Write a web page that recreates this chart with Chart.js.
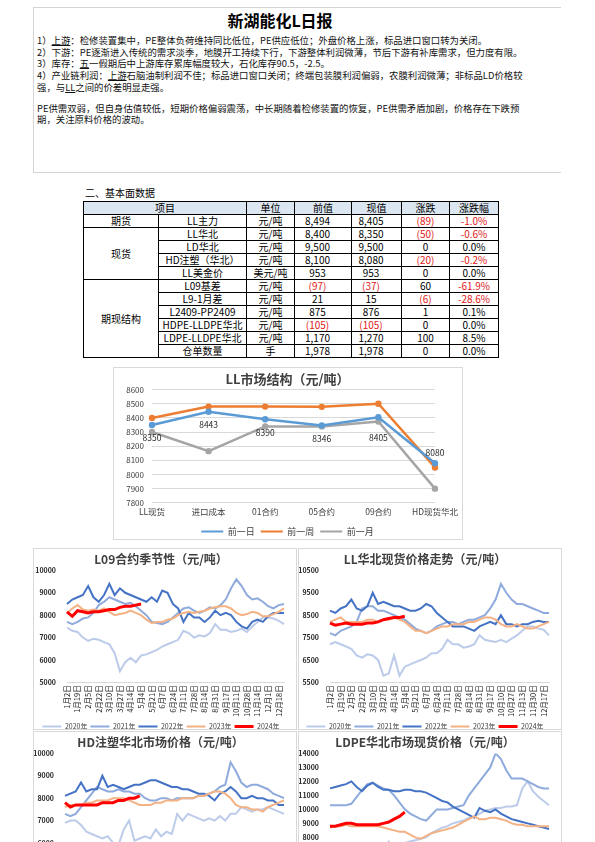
<!DOCTYPE html>
<html>
<head>
<meta charset="utf-8">
<script src="https://cdn.jsdelivr.net/npm/chart.js@4.4.1/dist/chart.umd.min.js"></script>
<style>
  body { margin: 0; width: 595px; height: 842px; overflow: hidden; background: #fff; position: relative;
         font-family: "Noto Sans CJK SC", sans-serif; color: #000; }
  .abs { position: absolute; }
  #summary { left: 33px; top: 7px; width: 527px; height: 164px; border: 1px solid #d4d4d4; border-right: none; }
  #title { left: 180px; top: 9px; width: 200px; text-align: center; font-size: 16px; font-weight: bold; line-height: 22px; }
  .txt { left: 37px; font-size: 9.4px; white-space: nowrap; color: #111; }
  #points { top: 35px; line-height: 11.7px; }
  #view { top: 103px; line-height: 10.8px; }
  #sect { left: 85px; top: 187px; font-size: 10px; line-height: 12px; }
  table { position: absolute; left: 83px; top: 201px; border-collapse: collapse; table-layout: fixed; font-size: 10px; }
  td { border: 1px solid #000; height: 12px; padding: 0; line-height: 12px; text-align: center; white-space: nowrap; }
  tr.head td { background: #dce6f1; }
  td.num { padding-right: 11px; }
  .red { color: #e02020; }
  .chartbox { position: absolute; border: 1px solid #d9d9d9; box-sizing: border-box; }
</style>
</head>
<body>
<div id="summary" class="abs"></div>
<div id="title" class="abs">新湖能化L日报</div>
<div id="points" class="abs txt">
1）<u>上游</u>：检修装置集中，PE整体负荷维持同比低位，PE供应低位；外盘价格上涨，标品进口窗口转为关闭。<br>
2）下游：PE逐渐进入传统的需求淡季，地膜开工持续下行，下游整体利润微薄，节后下游有补库需求，但力度有限。<br>
3）库存：<u>五</u>一假期后中上游库存累库幅度较大，石化库存90.5，-2.5。<br>
4）产业链利润：<u>上游</u>石脑油制利润不佳；标品进口窗口关闭；终端包装膜利润偏弱，农膜利润微薄；非标品LD价格较<br>
强，与<u>LL</u>之间的价差明显走强。
</div>
<div id="view" class="abs txt">
PE供需双弱，但自身估值较低，短期价格偏弱震荡，中长期随着检修装置的恢复，PE供需矛盾加剧，价格存在下跌预<br>
期，关注原料价格的波动。
</div>
<div id="sect" class="abs">二、基本面数据</div>

<table>
  <colgroup><col style="width:75px"><col style="width:88px"><col style="width:48px"><col style="width:57px"><col style="width:50px"><col style="width:48px"><col style="width:49px"></colgroup>
  <tr class="head"><td colspan="2">项目</td><td>单位</td><td>前值</td><td>现值</td><td>涨跌</td><td>涨跌幅</td></tr>
  <tr><td>期货</td><td>LL主力</td><td>元/吨</td><td class="num">8,494</td><td class="num">8,405</td><td class="red">(89)</td><td class="red">-1.0%</td></tr>
  <tr><td rowspan="4">现货</td><td>LL华北</td><td>元/吨</td><td class="num">8,400</td><td class="num">8,350</td><td class="red">(50)</td><td class="red">-0.6%</td></tr>
  <tr><td>LD华北</td><td>元/吨</td><td class="num">9,500</td><td class="num">9,500</td><td>0</td><td>0.0%</td></tr>
  <tr><td>HD注塑（华北）</td><td>元/吨</td><td class="num">8,100</td><td class="num">8,080</td><td class="red">(20)</td><td class="red">-0.2%</td></tr>
  <tr><td>LL美金价</td><td>美元/吨</td><td class="num">953</td><td class="num">953</td><td>0</td><td>0.0%</td></tr>
  <tr><td rowspan="6">期现结构</td><td>L09基差</td><td>元/吨</td><td class="num red">(97)</td><td class="num red">(37)</td><td>60</td><td class="red">-61.9%</td></tr>
  <tr><td>L9-1月差</td><td>元/吨</td><td class="num">21</td><td class="num">15</td><td class="red">(6)</td><td class="red">-28.6%</td></tr>
  <tr><td>L2409-PP2409</td><td>元/吨</td><td class="num">875</td><td class="num">876</td><td>1</td><td>0.1%</td></tr>
  <tr><td>HDPE-LLDPE华北</td><td>元/吨</td><td class="num red">(105)</td><td class="num red">(105)</td><td>0</td><td>0.0%</td></tr>
  <tr><td>LDPE-LLDPE华北</td><td>元/吨</td><td class="num">1,170</td><td class="num">1,270</td><td>100</td><td>8.5%</td></tr>
  <tr><td>仓单数量</td><td>手</td><td class="num">1,978</td><td class="num">1,978</td><td>0</td><td>0.0%</td></tr>
</table>

<div class="chartbox" style="left:113px;top:367px;width:350px;height:173px;"><canvas id="structChart"></canvas></div>
<div class="chartbox" style="left:33px;top:548px;width:264px;height:182px;"><canvas id="l09Chart"></canvas></div>
<div class="chartbox" style="left:298px;top:548px;width:264px;height:182px;"><canvas id="llChart"></canvas></div>
<div class="chartbox" style="left:33px;top:731px;width:264px;height:182px;"><canvas id="hdChart"></canvas></div>
<div class="chartbox" style="left:298px;top:731px;width:264px;height:182px;"><canvas id="ldChart"></canvas></div>

<script>
// ---- LL market structure ----
const structCats = ['LL现货', '进口成本', '01合约', '05合约', '09合约', 'HD现货华北'];
const dayBefore = [8350, 8443, 8390, 8346, 8405, 8080];
const weekBefore = [8400, 8480, 8480, 8478, 8500, 8050];
const monthBefore = [8300, 8165, 8340, 8340, 8375, 7900];

// ---- seasonal charts ----
const years = ['2020年', '2021年', '2022年', '2023年', '2024年'];
const l09Ticks = ['1月2日', '1月19日', '2月5日', '2月22日', '3月10日', '3月27日', '4月14日', '5月4日', '5月21日', '6月7日', '6月24日',
  '7月11日', '7月28日', '8月14日', '8月31日', '9月17日', '10月11日', '10月28日', '11月14日', '12月1日', '12月18日'];
const llTicks = ['1月2日', '1月19日', '2月5日', '2月22日', '3月10日', '3月27日', '4月14日', '5月4日', '5月21日', '6月7日', '6月24日',
  '7月11日', '7月28日', '8月14日', '8月31日', '9月17日', '10月10日', '10月27日', '11月13日', '11月30日', '12月17日'];

// L09 contract
const l09_2020 = [7450, 7300, 7250, 7000, 6850, 6950, 6900, 6800, 6700, 6300, 5500, 5900, 6100, 5900, 6200, 6250, 6350, 6450, 6600, 6700, 6800,
  6900, 7300, 7200, 7000, 7100, 7050, 7200, 7600, 7350, 7350, 7250, 7300, 7400, 7250, 7500, 7700, 7900, 7900, 7850, 7750, 7600];
const l09_2021 = [7700, 7600, 7700, 7850, 7900, 8100, 8450, 8600, 8800, 8700, 8600, 8500, 8550, 8400, 8200, 8000, 7700, 7650, 7600, 7700, 7900,
  8100, 8300, 8350, 8200, 8100, 8200, 8350, 8300, 8450, 8700, 9200, 9600, 9300, 8900, 8700, 8750, 8600, 8400, 8300, 8450, 8500];
const l09_2022 = [8500, 8700, 8800, 8900, 9300, 8800, 8600, 8900, 9400, 8900, 9200, 9000, 8900, 8800, 8700, 8600, 8800, 8600, 9100, 9000, 8500,
  8300, 7700, 8100, 7900, 7900, 7700, 7900, 8200, 8000, 8100, 8000, 7700, 7500, 7400, 7700, 7800, 7700, 7950, 8100, 8100, 8100];
const l09_2023 = [8100, 8300, 8450, 8250, 8200, 8250, 8200, 8300, 8150, 8000, 8050, 8100, 8200, 8100, 8000, 7800, 7650, 7700, 7700, 7800, 7850,
  8000, 8100, 8150, 8100, 8150, 8200, 8300, 8350, 8400, 8400, 8300, 8100, 8000, 8050, 8150, 8100, 7950, 7950, 8050, 8150, 8300];
const l09_2024 = [8150, 7950, 8200, 8150, 8100, 8150, 8150, 8200, 8250, 8250, 8350, 8400, 8400, 8450, 8500];

// LL north china spot
const ll_2020 = [7200, 7300, 7200, 7100, 7000, 6700, 6600, 6750, 6700, 6500, 5800, 5900, 6700, 5800, 6200, 6300, 6400, 6500, 6600, 6800, 6800,
  7000, 7400, 7200, 7200, 7050, 7100, 7200, 7600, 7400, 7350, 7300, 7400, 7300, 7450, 7600, 7800, 8000, 8000, 7900, 7850, 7600];
const ll_2021 = [7700, 7600, 7800, 7900, 8000, 8200, 8800, 8900, 8900, 8700, 8700, 8600, 8500, 8400, 8300, 8100, 7900, 7800, 7700, 7800, 8000,
  8100, 8200, 8200, 8100, 8200, 8300, 8300, 8400, 8500, 8800, 9200, 9900, 9500, 9200, 9000, 9000, 8900, 8800, 8700, 8600, 8600];
const ll_2022 = [8700, 8600, 8800, 8900, 9200, 8800, 8700, 8900, 9500, 9000, 9100, 9000, 8900, 8900, 8800, 8700, 8700, 8800, 9000, 8900, 8600,
  8400, 8200, 8000, 8000, 8000, 7900, 7800, 8000, 8100, 8200, 8100, 8500, 8100, 8100, 8000, 8100, 8100, 8200, 8250, 8200, 8200];
const ll_2023 = [8200, 8300, 8400, 8200, 8200, 8200, 8200, 8300, 8300, 8200, 8300, 8300, 8400, 8300, 8200, 8000, 7800, 7800, 7700, 7800, 7900,
  8000, 8000, 8100, 8100, 8100, 8200, 8200, 8300, 8400, 8400, 8300, 8100, 8000, 8000, 8100, 8000, 7900, 7900, 8000, 8100, 8200];
const ll_2024 = [8150, 8050, 8100, 8150, 8100, 8100, 8100, 8150, 8150, 8200, 8300, 8350, 8400, 8400, 8450];

// HD injection north china
const hd_2020 = [6900, 7000, 7000, 6800, 6500, 6400, 6300, 6200, 6300, 6000, 5900, 6600, 7000, 6100, 6200, 6300, 6200, 6600, 6300, 6500, 6400,
  7300, 7000, 7300, 7200, 7100, 7000, 7100, 7000, 7200, 7000, 7300, 7300, 7600, 7500, 7400, 7500, 7500, 7600, 7500, 7400, 7300];
const hd_2021 = [7300, 7200, 7300, 7600, 7900, 8200, 8500, 8400, 8300, 8300, 8400, 8300, 8300, 8200, 8200, 8000, 7900, 7900, 8000, 8000, 7900,
  8000, 8000, 8000, 8000, 8100, 8100, 8200, 8300, 8500, 8600, 9600, 9200, 8700, 8500, 8600, 8600, 8500, 8400, 8200, 8100, 8000];
const hd_2022 = [8100, 8200, 8300, 8700, 8300, 8400, 8400, 9000, 8500, 8600, 8500, 8400, 8500, 8600, 8600, 8700, 8800, 8800, 8700, 8600, 8500,
  8500, 8400, 8400, 8300, 8200, 8200, 8100, 7900, 8200, 8300, 8500, 8300, 8000, 8000, 8100, 8000, 8000, 7900, 7900, 7700, 7700];
const hd_2023 = [7600, 7700, 7700, 7700, 7800, 7800, 7900, 7900, 7900, 8000, 8000, 8000, 7900, 7800, 7700, 7700, 7700, 7800, 7800, 7900, 7900,
  7900, 8000, 8000, 8000, 8100, 8100, 8200, 8300, 8300, 8200, 8000, 7700, 7600, 7600, 7500, 7500, 7400, 7600, 7700, 7800, 7900];
const hd_2024 = [7800, 7600, 7700, 7700, 7700, 7700, 7700, 7800, 7800, 7800, 7900, 7900, 8000, 8000, 8100];

// LDPE north china
const ld_2020 = [7600, 7600, 7500, 7400, 7300, 7200, 7200, 7300, 7400, 7200, 7100, 7700, 7300, 7400, 7600, 7700, 7800, 7900, 8000, 8300, 8500,
  8700, 8800, 9000, 9100, 9200, 9400, 9500, 9700, 9900, 10000, 10100, 10100, 10200, 10200, 10300, 11500, 12000, 11300, 10900, 10600, 10300];
const ld_2021 = [10300, 10300, 10300, 10300, 10400, 10900, 11400, 11800, 11900, 11700, 11500, 11400, 11000, 10500, 10000, 9700, 9500, 9300, 9200, 9600, 10000,
  10000, 10000, 10100, 10200, 10300, 11000, 11500, 12000, 12500, 13000, 14000, 13600, 12800, 12200, 12200, 12200, 12000, 11800, 11600, 11500, 11500];
const ld_2022 = [11500, 11600, 11700, 11800, 12000, 11600, 11300, 11700, 11900, 11600, 11400, 11400, 11300, 11300, 11400, 11400, 11300, 11300, 11200, 11000, 10800,
  10600, 10500, 10200, 10000, 9800, 9600, 9400, 10100, 9900, 9800, 10000, 9700, 9500, 9300, 9200, 9100, 9000, 8900, 8800, 8700, 8600];
const ld_2023 = [8700, 8800, 8800, 8900, 8800, 8800, 8800, 8800, 8800, 8800, 8700, 8600, 8500, 8400, 8400, 8200, 8000, 7900, 8100, 8300, 8400,
  8500, 8600, 8700, 8900, 9100, 9300, 9500, 9300, 9300, 9400, 9400, 9300, 9200, 9000, 8900, 8900, 8800, 8800, 8800, 8800, 8800];
const ld_2024 = [8800, 8800, 8900, 9000, 9000, 8900, 8900, 8900, 8900, 8900, 9000, 9100, 9300, 9500, 9800];

const FONT = '"Noto Sans CJK SC", sans-serif';
Chart.defaults.font.family = FONT;
Chart.defaults.color = '#404040';
Chart.defaults.devicePixelRatio = 1;
Chart.defaults.animation = false;

const yearColors = ['#bccbe9', '#8faadc', '#4472c4', '#f4b183', '#ff0000'];

// value labels under the 前一日 line
const labelOffsets = [13, 13, 13, 13, 21, -10];
const pointLabels = {
  id: 'pointLabels',
  afterDatasetsDraw(chart) {
    const meta = chart.getDatasetMeta(0);
    const ctx = chart.ctx;
    ctx.save();
    ctx.font = '8.5px ' + FONT;
    ctx.fillStyle = '#262626';
    ctx.textAlign = 'center';
    ctx.textBaseline = 'middle';
    meta.data.forEach((pt, i) => {
      ctx.fillText(String(dayBefore[i]), pt.x, pt.y + labelOffsets[i]);
    });
    ctx.restore();
  }
};

function lineSet(label, data, color) {
  return {
    label: label, data: data, borderColor: color, backgroundColor: color,
    borderWidth: 2.5, pointRadius: 2.2, pointBorderWidth: 2, pointBorderColor: color, pointBackgroundColor: color, tension: 0
  };
}

new Chart(document.getElementById('structChart'), {
  type: 'line',
  data: {
    labels: structCats,
    datasets: [
      lineSet('前一日', dayBefore, '#5b9bd5'),
      lineSet('前一周', weekBefore, '#ed7d31'),
      lineSet('前一月', monthBefore, '#a5a5a5')
    ]
  },
  options: {
    responsive: true,
    maintainAspectRatio: false,
    layout: { padding: { left: 6, right: 7, top: 0, bottom: -7 } },
    plugins: {
      title: { display: true, text: 'LL市场结构（元/吨）', color: '#404040', font: { size: 13, weight: 'bold' }, padding: { top: 3, bottom: 3 } },
      legend: {
        position: 'bottom',
        labels: { usePointStyle: true, pointStyle: 'line', pointStyleWidth: 22, boxHeight: 9, font: { size: 9 }, padding: 6 }
      },
      tooltip: { enabled: false }
    },
    scales: {
      x: { grid: { display: false, drawTicks: false }, border: { display: false }, ticks: { font: { size: 8.5 }, padding: 4 } },
      y: {
        min: 7800, max: 8600,
        ticks: { stepSize: 100, font: { size: 8 }, padding: 8, callback: v => String(v) },
        grid: { color: '#d9d9d9', drawTicks: false },
        border: { display: false },
        afterFit: s => { s.width = 32; }
      }
    }
  },
  plugins: [pointLabels]
});

function seasonChart(id, title, ticks, series, yMin, yMax, yStep, axisWidth, padLeft, padRight) {
  // one tick label every second trading-day point
  const labels = ticks.flatMap(t => [t, '']);
  new Chart(document.getElementById(id), {
    type: 'line',
    data: {
      labels: labels,
      datasets: series.map((s, i) => ({
        label: years[i],
        data: s,
        borderColor: yearColors[i],
        backgroundColor: yearColors[i],
        borderWidth: i === 4 ? 3 : 2,
        pointRadius: 0,
        pointBorderWidth: i === 4 ? 3 : 2,
        tension: 0,
        order: 4 - i
      }))
    },
    options: {
      responsive: true,
      maintainAspectRatio: false,
      layout: { padding: { left: padLeft, right: padRight, top: 0, bottom: -11 } },
      plugins: {
        title: { display: true, text: title, color: '#404040', font: { size: 12, weight: 'bold' }, padding: { top: 3, bottom: 4 } },
        legend: {
          position: 'bottom',
          labels: {
            usePointStyle: true, pointStyle: 'line', pointStyleWidth: 19, boxHeight: 7,
            font: { size: 7 }, padding: 3,
            sort: (a, b) => a.datasetIndex - b.datasetIndex
          }
        },
        tooltip: { enabled: false }
      },
      scales: {
        x: {
          grid: { display: false, drawTicks: false },
          border: { color: '#d9d9d9' },
          ticks: { autoSkip: false, minRotation: 90, maxRotation: 90, font: { size: 7.5 }, color: '#262626', padding: 3 }
        },
        y: {
          min: yMin, max: yMax,
          ticks: { stepSize: yStep, font: { size: 7, weight: 'bold' }, color: '#262626', padding: 3, callback: v => String(v) },
          grid: { display: false },
          border: { display: false },
          afterFit: s => { s.width = axisWidth; }
        }
      }
    }
  });
}

seasonChart('l09Chart', 'L09合约季节性（元/吨）', l09Ticks, [l09_2020, l09_2021, l09_2022, l09_2023, l09_2024], 5000, 10000, 1000, 32, 1, 9);
seasonChart('llChart', 'LL华北现货价格走势（元/吨）', llTicks, [ll_2020, ll_2021, ll_2022, ll_2023, ll_2024], 5500, 10500, 1000, 31, 0, 10);
seasonChart('hdChart', 'HD注塑华北市场价格（元/吨）', l09Ticks, [hd_2020, hd_2021, hd_2022, hd_2023, hd_2024], 5000, 10000, 1000, 31, 0, 9);
seasonChart('ldChart', 'LDPE华北市场现货价格（元/吨）', llTicks, [ld_2020, ld_2021, ld_2022, ld_2023, ld_2024], 6000, 14000, 1000, 31, 0, 10);
</script>
</body>
</html>
